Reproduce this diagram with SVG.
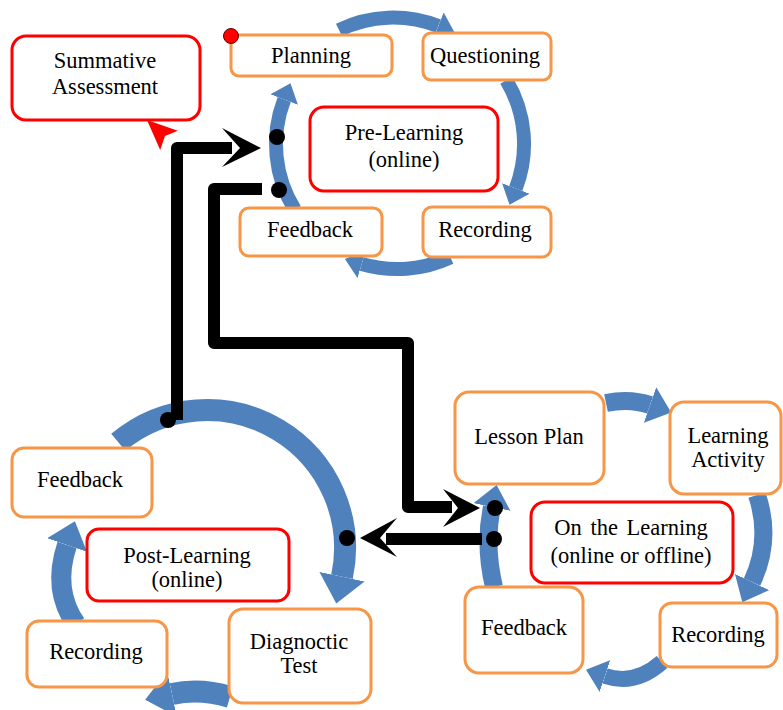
<svg xmlns="http://www.w3.org/2000/svg" width="783" height="710" viewBox="0 0 783 710">
<style>
.arc{fill:none;stroke:#4F81BD;stroke-linecap:butt;marker-end:url(#bh)}
.ob{fill:#fff;stroke:#F79646;stroke-width:3}
.rb{fill:#fff;stroke:#FF0000;stroke-width:3}
.t{font-family:"Liberation Serif","Times New Roman",serif;font-size:22.5px;fill:#000;text-anchor:middle}
.bl{fill:none;stroke:#000;stroke-width:12;stroke-linejoin:round}
.dot{fill:#000}
</style>
<defs>
<marker id="bh" viewBox="0 0 10 10" refX="0" refY="5" markerWidth="1.25" markerHeight="2.1" markerUnits="strokeWidth" orient="auto" preserveAspectRatio="none">
<path d="M0,0 L10,5 L0,10 z" fill="#4F81BD"/>
</marker>
</defs>
<rect width="783" height="710" fill="#fff"/>
<g id="arcs">
<path class="arc" stroke-width="14" d="M294.8,209.7 A124,124 0 0 1 284.2,99.6"/>
<path class="arc" stroke-width="14" d="M339,30 A124,124 0 0 1 438.3,26.1"/>
<path class="arc" stroke-width="14" d="M506.3,80.1 A124,124 0 0 1 515.8,188.4"/>
<path class="arc" stroke-width="14" d="M450.4,257.3 A126,126 0 0 1 361.7,264"/>
<path class="arc" stroke-width="22" d="M118.3,442.3 A138,138 0 0 1 342,576.7"/>
<path class="arc" stroke-width="20" d="M76,624 Q52,590 67,545"/>
<path class="arc" stroke-width="22" d="M230,697 Q200,688 172,694"/>
<path class="arc" stroke-width="18" d="M606,403 Q630,398 650,405"/>
<path class="arc" stroke-width="18" d="M757,495 Q772,540 752,582"/>
<path class="arc" stroke-width="16" d="M662,662 Q635,686 605,676"/>
<path class="arc" stroke-width="18" d="M494,587 Q484,545 492,507"/>
</g>
<g id="summative"><rect class="rb" x="12" y="36" width="188" height="84" rx="14"/><text class="t" x="105" y="68">Summative</text><text class="t" x="105" y="94">Assessment</text></g>
<g id="planning"><rect class="ob" x="231" y="35" width="161" height="41" rx="8"/><text class="t" x="311" y="63">Planning</text></g>
<g id="questioning"><rect class="ob" x="423" y="33" width="128" height="47" rx="8"/><text class="t" x="485" y="63">Questioning</text></g>
<g id="pre-learning"><rect class="rb" x="310" y="107" width="188" height="84" rx="14"/><text class="t" x="404" y="140">Pre-Learning</text><text class="t" x="404" y="167">(online)</text></g>
<g id="feedback-top"><rect class="ob" x="240" y="208" width="142" height="48" rx="9"/><text class="t" x="310" y="237">Feedback</text></g>
<g id="recording-top"><rect class="ob" x="423" y="207" width="128" height="50" rx="9"/><text class="t" x="485" y="237">Recording</text></g>
<g id="feedback-post"><rect class="ob" x="12" y="448" width="140" height="69" rx="12"/><text class="t" x="80" y="487">Feedback</text></g>
<g id="post-learning"><rect class="rb" x="87" y="529" width="202" height="72" rx="12"/><text class="t" x="187" y="563">Post-Learning</text><text class="t" x="187" y="587">(online)</text></g>
<g id="recording-post"><rect class="ob" x="27" y="621" width="140" height="66" rx="12"/><text class="t" x="96" y="659">Recording</text></g>
<g id="diagnoctic"><rect class="ob" x="229" y="609" width="142" height="94" rx="14"/><text class="t" x="299" y="649">Diagnoctic</text><text class="t" x="299" y="673">Test</text></g>
<g id="lesson-plan"><rect class="ob" x="455" y="392" width="149" height="92" rx="14"/><text class="t" x="529" y="444">Lesson Plan</text></g>
<g id="learning-activity"><rect class="ob" x="670" y="402" width="111" height="92" rx="14"/><text class="t" x="728" y="443">Learning</text><text class="t" x="728" y="467">Activity</text></g>
<g id="on-the-learning"><rect class="rb" x="531" y="502" width="202" height="81" rx="14"/><text class="t" x="631" y="535" word-spacing="3">On the Learning</text><text class="t" x="631" y="563">(online or offline)</text></g>
<g id="feedback-on"><rect class="ob" x="465" y="587" width="118" height="86" rx="14"/><text class="t" x="524" y="635">Feedback</text></g>
<g id="recording-on"><rect class="ob" x="660" y="603" width="117" height="64" rx="12"/><text class="t" x="718" y="642">Recording</text></g>
<g id="connectors">
<polygon fill="#FF0000" points="147,120 177.8,130.7 165,136 160.2,149.9"/>
<path class="bl" d="M177,420 L177,148 L232,148"/>
<polygon points="261,148 222,128 240,148 222,167"/>
<path class="bl" d="M262,189 L214,189 L214,343 L408,343 L408,507 L452,507"/>
<polygon points="480,508 443,489 458,508 443,527"/>
<path class="bl" d="M482,539 L386,539"/>
<polygon points="360,538 397,518 380,538 397,557"/>
<circle class="dot" cx="277" cy="137" r="8"/>
<circle class="dot" cx="279" cy="190" r="8"/>
<circle class="dot" cx="168" cy="420" r="8"/>
<circle class="dot" cx="347" cy="538" r="8"/>
<circle class="dot" cx="495" cy="508" r="8"/>
<circle class="dot" cx="494" cy="539" r="8"/>
<circle cx="231" cy="36" r="7.5" fill="#FF0000" stroke="#600" stroke-width="1"/>
</g>
</svg>
